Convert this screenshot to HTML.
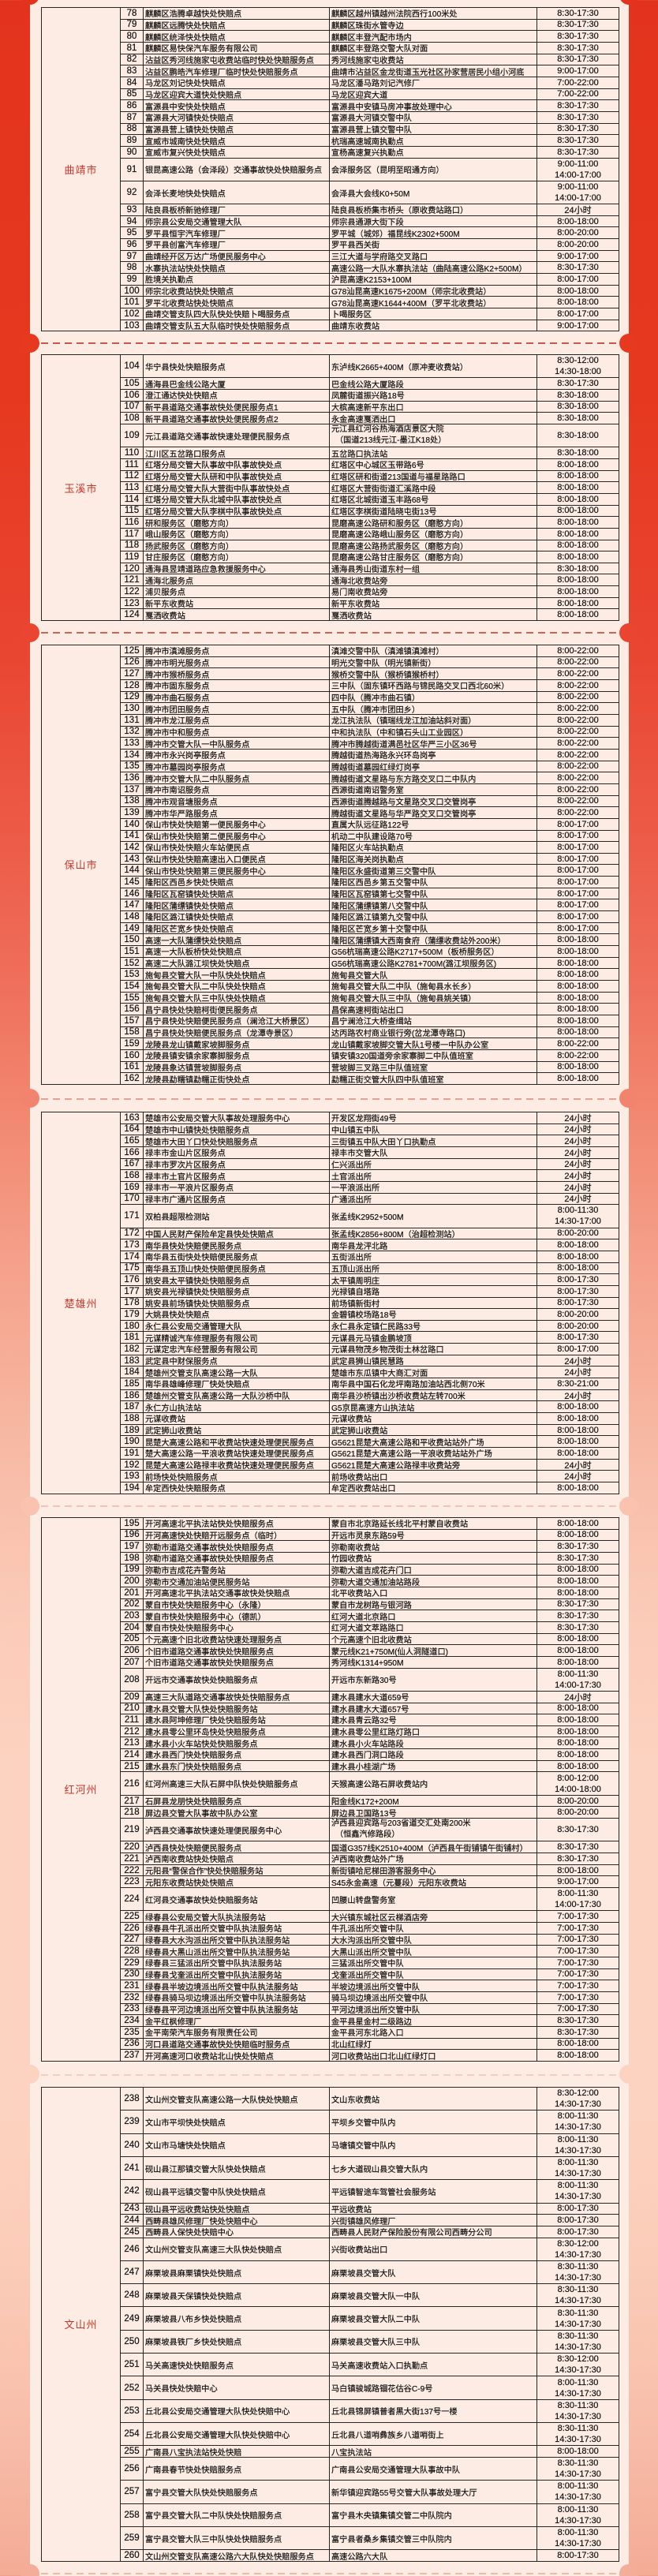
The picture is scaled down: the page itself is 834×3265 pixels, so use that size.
<!DOCTYPE html>
<html lang="zh">
<head>
<meta charset="utf-8">
<style>
*{margin:0;padding:0;box-sizing:border-box}
html,body{width:834px;height:3265px;overflow:hidden}
body{position:relative;font-family:"Liberation Sans","Noto Sans CJK SC",sans-serif;color:#121212;
background:linear-gradient(to bottom,#e3331e 0px,#e6381f 500px,#e94531 820px,#ec5a46 1050px,#ef705c 1250px,#f2866f 1400px,#f5a38d 1620px,#f8bea9 1880px,#fbcbb8 2050px,#fcd3c1 2250px,#fcd3c1 2650px,#fbcdb9 2850px,#f8c0ac 3050px,#f4ab96 3265px)}
.card{position:absolute;left:38px;top:-20px;width:759px;height:3320px;background:#fcece3;border-radius:12px}
.n{position:absolute;width:24px;height:24px;border-radius:50%}
.dl{position:absolute;left:52px;width:733px;height:2px}
.g{position:absolute;left:52px;width:733px;display:grid;grid-template-columns:100px 29px 236px 263px 104px;grid-auto-rows:14.67px;border-left:1px solid #262626;border-top:1px solid #262626;background:#fcece3}
.g h3{grid-column:1;display:flex;align-items:center;justify-content:center;font-weight:normal;font-size:13px;letter-spacing:1px;color:#c4392d;border-right:1px solid #262626;border-bottom:1px solid #262626}
.g p{display:contents}
.g i,.g b,.g em{display:flex;flex-direction:column;justify-content:center;border-right:1px solid #262626;border-bottom:1px solid #262626;font-style:normal;font-weight:normal;white-space:nowrap;overflow:hidden;-webkit-text-stroke:0.2px #121212}
.g i{align-items:center;font-size:11.5px}
.g b{align-items:flex-start;padding-left:2px;font-size:10.2px}
.g em{align-items:center;font-size:11px}
.g s{display:block;text-decoration:none;line-height:14px}
.g b s.in{padding-left:5px}
.g p.d>*{grid-row-end:span 2}
</style>
</head>
<body>
<div class="card"></div>

<div class="n" style="left:26px;top:-18px;background:#e3331e"></div><div class="n" style="left:785px;top:-18px;background:#e3331e"></div>
<div class="n" style="left:26px;top:423px;background:#e6391f"></div><div class="n" style="left:785px;top:423px;background:#e6391f"></div>
<div class="n" style="left:26px;top:790px;background:#e94531"></div><div class="n" style="left:785px;top:790px;background:#e94531"></div>
<div class="n" style="left:26px;top:1380px;background:#f2846e"></div><div class="n" style="left:785px;top:1380px;background:#f2846e"></div>
<div class="n" style="left:26px;top:1897px;background:#f9c3af"></div><div class="n" style="left:785px;top:1897px;background:#f9c3af"></div>
<div class="n" style="left:26px;top:2617px;background:#fcd3c1"></div><div class="n" style="left:785px;top:2617px;background:#fcd3c1"></div>
<div class="n" style="left:26px;top:3250px;background:#f4ad98"></div><div class="n" style="left:785px;top:3250px;background:#f4ad98"></div>

<div class="dl" style="top:434px;background:repeating-linear-gradient(90deg,#c85848 0 9px,transparent 9px 15px)"></div>
<div class="dl" style="top:801px;background:repeating-linear-gradient(90deg,#cb6556 0 9px,transparent 9px 15px)"></div>
<div class="dl" style="top:1392px;background:repeating-linear-gradient(90deg,#e4a090 0 9px,transparent 9px 15px)"></div>
<div class="dl" style="top:1908px;background:repeating-linear-gradient(90deg,#efc4b4 0 9px,transparent 9px 15px)"></div>
<div class="dl" style="top:2629px;background:repeating-linear-gradient(90deg,#f3cebf 0 9px,transparent 9px 15px)"></div>
<div class="dl" style="top:3261px;background:repeating-linear-gradient(90deg,#efbba9 0 9px,transparent 9px 15px)"></div>

<!-- 曲靖市 -->
<div class="g" style="top:9px">
<h3 style="grid-row:1/span 28">曲靖市</h3>
<p><i>78</i><b>麒麟区浩腾卓越快处快赔点</b><b>麒麟区越州镇越州法院西行100米处</b><em>8:30-17:30</em></p>
<p><i>79</i><b>麒麟区远腾快处快赔点</b><b>麒麟区珠街水管寺边</b><em>8:30-17:30</em></p>
<p><i>80</i><b>麒麟区统泽快处快赔点</b><b>麒麟区丰登汽配市场内</b><em>8:30-17:30</em></p>
<p><i>81</i><b>麒麟区易快保汽车服务有限公司</b><b>麒麟区丰登路交警大队对面</b><em>8:30-17:30</em></p>
<p><i>82</i><b>沾益区秀河线施家屯收费站临时快处快赔服务点</b><b>秀河线施家屯收费站</b><em>8:30-17:30</em></p>
<p><i>83</i><b>沾益区鹏皓汽车修理厂临时快处快赔服务点</b><b>曲靖市沾益区金龙街道玉光社区孙家营居民小组小河底</b><em>9:00-17:00</em></p>
<p><i>84</i><b>马龙区刘记快处快赔点</b><b>马龙区潘马路刘记汽修厂</b><em>7:00-22:00</em></p>
<p><i>85</i><b>马龙区迎宾大道快处快赔点</b><b>马龙区迎宾大道</b><em>7:00-22:00</em></p>
<p><i>86</i><b>富源县中安快处快赔点</b><b>富源县中安镇马房冲事故处理中心</b><em>8:30-17:30</em></p>
<p><i>87</i><b>富源县大河镇快处快赔点</b><b>富源县大河镇交警中队</b><em>8:30-17:30</em></p>
<p><i>88</i><b>富源县营上镇快处快赔点</b><b>富源县营上镇交警中队</b><em>8:30-17:30</em></p>
<p><i>89</i><b>宣威市城南快处快赔点</b><b>杭瑞高速城南执勤点</b><em>8:30-17:30</em></p>
<p><i>90</i><b>宣威市复兴快处快赔点</b><b>宣杨高速复兴执勤点</b><em>8:30-17:30</em></p>
<p class="d"><i>91</i><b>银昆高速公路（会泽段）交通事故快处快赔服务点</b><b>会泽服务区（昆明至昭通方向）</b><em><s>9:00-11:00</s><s>14:00-17:00</s></em></p>
<p class="d"><i>92</i><b>会泽长麦地快处快赔点</b><b>会泽县大会线K0+50M</b><em><s>9:00-11:00</s><s>14:00-17:00</s></em></p>
<p><i>93</i><b>陆良县板桥新驰修理厂</b><b>陆良县板桥集市桥头（原收费站路口）</b><em>24小时</em></p>
<p><i>94</i><b>师宗县公安局交通管理大队</b><b>师宗县通源大街下段</b><em>8:00-18:00</em></p>
<p><i>95</i><b>罗平县恒宇汽车修理厂</b><b>罗平城（城郊）福昆线K2302+500M</b><em>8:00-20:00</em></p>
<p><i>96</i><b>罗平县创富汽车修理厂</b><b>罗平县西关街</b><em>8:00-20:00</em></p>
<p><i>97</i><b>曲靖经开区万达广场便民服务中心</b><b>三江大道与学府路交叉路口</b><em>9:00-17:00</em></p>
<p><i>98</i><b>水寨执法站快处快赔点</b><b>高速公路一大队水寨执法站（曲陆高速公路K2+500M）</b><em>8:30-17:30</em></p>
<p><i>99</i><b>胜境关执勤点</b><b>沪昆高速K2153+100M</b><em>8:00-17:00</em></p>
<p><i>100</i><b>师宗北收费站快处快赔点</b><b>G78汕昆高速K1675+200M（师宗北收费站）</b><em>8:00-18:00</em></p>
<p><i>101</i><b>罗平北收费站快处快赔点</b><b>G78汕昆高速K1644+400M（罗平北收费站）</b><em>8:00-18:00</em></p>
<p><i>102</i><b>曲靖交管支队四大队快处快赔卜喝服务点</b><b>卜喝服务区</b><em>8:00-17:00</em></p>
<p><i>103</i><b>曲靖交管支队五大队临时快处快赔服务点</b><b>曲靖东收费站</b><em>9:00-17:00</em></p>
</div>

<!-- 玉溪市 -->
<div class="g" style="top:449px">
<h3 style="grid-row:1/span 23">玉溪市</h3>
<p class="d"><i>104</i><b>华宁县快处快赔服务点</b><b>东泸线K2665+400M（原冲麦收费站）</b><em><s>8:30-12:00</s><s>14:30-18:00</s></em></p>
<p><i>105</i><b>通海县巴金线公路大厦</b><b>巴金线公路大厦路段</b><em>8:30-17:30</em></p>
<p><i>106</i><b>澄江通达快处快赔点</b><b>凤麓街道振兴路18号</b><em>8:30-18:00</em></p>
<p><i>107</i><b>新平县道路交通事故快处便民服务点1</b><b>大槟高速新平东出口</b><em>8:30-18:00</em></p>
<p><i>108</i><b>新平县道路交通事故快处便民服务点2</b><b>永金高速戛洒出口</b><em>8:30-18:00</em></p>
<p class="d"><i>109</i><b>元江县道路交通事故快速处理便民服务点</b><b><s>元江县红河谷热海酒店景区大院</s><s class="in">（国道213线元江-墨江K18处）</s></b><em>8:30-18:00</em></p>
<p><i>110</i><b>江川区五岔路口服务点</b><b>五岔路口执法站</b><em>8:30-18:00</em></p>
<p><i>111</i><b>红塔分局交管大队事故中队事故快处点</b><b>红塔区中心城区玉带路6号</b><em>8:00-18:00</em></p>
<p><i>112</i><b>红塔分局交管大队研和中队事故快处点</b><b>红塔区研和街道213国道与福星路路口</b><em>8:00-18:00</em></p>
<p><i>113</i><b>红塔分局交管大队大营街中队事故快处点</b><b>红塔区大营街街道汇溪路中段</b><em>8:00-18:00</em></p>
<p><i>114</i><b>红塔分局交管大队北城中队事故快处点</b><b>红塔区北城街道玉丰路68号</b><em>8:00-18:00</em></p>
<p><i>115</i><b>红塔分局交管大队李棋中队事故快处点</b><b>红塔区李棋街道陆晓屯街13号</b><em>8:00-18:00</em></p>
<p><i>116</i><b>研和服务区（磨憨方向）</b><b>昆磨高速公路研和服务区（磨憨方向）</b><em>8:00-18:00</em></p>
<p><i>117</i><b>峨山服务区（磨憨方向）</b><b>昆磨高速公路峨山服务区（磨憨方向）</b><em>8:00-18:00</em></p>
<p><i>118</i><b>扬武服务区（磨憨方向）</b><b>昆磨高速公路扬武服务区（磨憨方向）</b><em>8:00-18:00</em></p>
<p><i>119</i><b>甘庄服务区（磨憨方向）</b><b>昆磨高速公路甘庄服务区（磨憨方向）</b><em>8:00-18:00</em></p>
<p><i>120</i><b>通海县昱靖道路应急救援服务中心</b><b>通海县秀山街道东村一组</b><em>8:30-18:00</em></p>
<p><i>121</i><b>通海北服务点</b><b>通海北收费站旁</b><em>8:00-18:00</em></p>
<p><i>122</i><b>浦贝服务点</b><b>易门南收费站旁</b><em>8:00-18:00</em></p>
<p><i>123</i><b>新平东收费站</b><b>新平东收费站</b><em>8:00-18:00</em></p>
<p><i>124</i><b>戛洒收费站</b><b>戛洒收费站</b><em>8:00-18:00</em></p>
</div>

<!-- 保山市 -->
<div class="g" style="top:817px">
<h3 style="grid-row:1/span 38">保山市</h3>
<p><i>125</i><b>腾冲市滇滩服务点</b><b>滇滩交警中队（滇滩镇滇滩村）</b><em>8:00-22:00</em></p>
<p><i>126</i><b>腾冲市明光服务点</b><b>明光交警中队（明光镇新街）</b><em>8:00-22:00</em></p>
<p><i>127</i><b>腾冲市猴桥服务点</b><b>猴桥交警中队（猴桥镇猴桥村）</b><em>8:00-22:00</em></p>
<p><i>128</i><b>腾冲市固东服务点</b><b>三中队（固东镇环西路与锦民路交叉口西北60米）</b><em>8:00-22:00</em></p>
<p><i>129</i><b>腾冲市曲石服务点</b><b>四中队（腾冲市曲石镇）</b><em>8:00-22:00</em></p>
<p><i>130</i><b>腾冲市团田服务点</b><b>五中队（腾冲市团田乡）</b><em>8:00-22:00</em></p>
<p><i>131</i><b>腾冲市龙江服务点</b><b>龙江执法队（镇瑞线龙江加油站斜对面）</b><em>8:00-22:00</em></p>
<p><i>132</i><b>腾冲市中和服务点</b><b>中和执法队（中和镇石头山工业园区）</b><em>8:00-22:00</em></p>
<p><i>133</i><b>腾冲市交管大队一中队服务点</b><b>腾冲市腾越街道满邑社区华严三小区36号</b><em>8:00-22:00</em></p>
<p><i>134</i><b>腾冲市永兴岗亭服务点</b><b>腾越街道热海路永兴环岛岗亭</b><em>8:00-22:00</em></p>
<p><i>135</i><b>腾冲市墓园岗亭服务点</b><b>腾越街道墓园红绿灯岗亭</b><em>8:00-22:00</em></p>
<p><i>136</i><b>腾冲市交管大队二中队服务点</b><b>腾越街道文星路与东方路交叉口二中队内</b><em>8:00-22:00</em></p>
<p><i>137</i><b>腾冲市南诏服务点</b><b>西源街道南诏警务室</b><em>8:00-22:00</em></p>
<p><i>138</i><b>腾冲市观音塘服务点</b><b>西源街道腾越路与文星路交叉口交管岗亭</b><em>8:00-22:00</em></p>
<p><i>139</i><b>腾冲市华严路服务点</b><b>腾越街道文星路与华严路交叉口交管岗亭</b><em>8:00-22:00</em></p>
<p><i>140</i><b>保山市快处快赔第一便民服务中心</b><b>直属大队远征路122号</b><em>8:00-17:00</em></p>
<p><i>141</i><b>保山市快处快赔第二便民服务中心</b><b>机动二中队建设路70号</b><em>8:00-17:00</em></p>
<p><i>142</i><b>保山市快处快赔火车站便民点</b><b>隆阳区火车站执勤点</b><em>8:00-17:00</em></p>
<p><i>143</i><b>保山市快处快赔高速出入口便民点</b><b>隆阳区海关岗执勤点</b><em>8:00-17:00</em></p>
<p><i>144</i><b>保山市快处快赔第三便民服务中心</b><b>隆阳区永盛街道第三交警中队</b><em>8:00-17:00</em></p>
<p><i>145</i><b>隆阳区西邑乡快处快赔点</b><b>隆阳区西邑乡第五交警中队</b><em>8:00-17:00</em></p>
<p><i>146</i><b>隆阳区瓦窑镇快处快赔点</b><b>隆阳区瓦窑镇第七交警中队</b><em>8:00-17:00</em></p>
<p><i>147</i><b>隆阳区蒲缥镇快处快赔点</b><b>隆阳区蒲缥镇第八交警中队</b><em>8:00-17:00</em></p>
<p><i>148</i><b>隆阳区潞江镇快处快赔点</b><b>隆阳区潞江镇第九交警中队</b><em>8:00-17:00</em></p>
<p><i>149</i><b>隆阳区芒宽乡快处快赔点</b><b>隆阳区芒宽乡第十交警中队</b><em>8:00-17:00</em></p>
<p><i>150</i><b>高速一大队蒲缥快处快赔点</b><b>隆阳区蒲缥镇大西南食府（蒲缥收费站外200米）</b><em>8:00-18:00</em></p>
<p><i>151</i><b>高速一大队板桥快处快赔点</b><b>G56杭瑞高速公路K2717+500M（板桥服务区）</b><em>8:00-18:00</em></p>
<p><i>152</i><b>高速二大队潞江坝快处快赔点</b><b>G56杭瑞高速公路K2781+700M(潞江坝服务区)</b><em>8:00-18:00</em></p>
<p><i>153</i><b>施甸县交管大队一中队快处快赔点</b><b>施甸县交管大队</b><em>8:00-18:00</em></p>
<p><i>154</i><b>施甸县交管大队二中队快处快赔点</b><b>施甸县交管大队二中队（施甸县水长乡）</b><em>8:00-18:00</em></p>
<p><i>155</i><b>施甸县交管大队三中队快处快赔点</b><b>施甸县交管大队三中队（施甸县姚关镇）</b><em>8:00-18:00</em></p>
<p><i>156</i><b>昌宁县快处快赔柯街便民服务点</b><b>昌保高速柯街站出口</b><em>8:00-18:00</em></p>
<p><i>157</i><b>昌宁县快处快赔便民服务点（澜沧江大桥景区）</b><b>昌宁澜沧江大桥查缉站</b><em>8:00-18:00</em></p>
<p><i>158</i><b>昌宁县快处快赔便民服务点（龙潭寺景区）</b><b>达丙路农村商业银行旁(岔龙潭寺路口)</b><em>8:00-18:00</em></p>
<p><i>159</i><b>龙陵县龙山镇戴家坡脚服务点</b><b>龙山镇戴家坡脚交管大队1号楼一中队办公室</b><em>8:00-22:00</em></p>
<p><i>160</i><b>龙陵县镇安镇余家寨脚服务点</b><b>镇安镇320国道旁余家寨脚二中队值班室</b><em>8:00-22:00</em></p>
<p><i>161</i><b>龙陵县象达镇营坡脚服务点</b><b>营坡脚三叉路三中队值班室</b><em>8:00-18:00</em></p>
<p><i>162</i><b>龙陵县勐糯镇勐糯正街快处点</b><b>勐糯正街交管大队四中队值班室</b><em>8:00-18:00</em></p>
</div>

<!-- 楚雄州 -->
<div class="g" style="top:1409px">
<h3 style="grid-row:1/span 33">楚雄州</h3>
<p><i>163</i><b>楚雄市公安局交管大队事故处理服务中心</b><b>开发区龙翔街49号</b><em>24小时</em></p>
<p><i>164</i><b>楚雄市中山镇快处快赔服务点</b><b>中山镇五中队</b><em>24小时</em></p>
<p><i>165</i><b>楚雄市大田丫口快处快赔服务点</b><b>三街镇五中队大田丫口执勤点</b><em>24小时</em></p>
<p><i>166</i><b>禄丰市金山片区服务点</b><b>禄丰市交管大队</b><em>24小时</em></p>
<p><i>167</i><b>禄丰市罗次片区服务点</b><b>仁兴派出所</b><em>24小时</em></p>
<p><i>168</i><b>禄丰市土官片区服务点</b><b>土官派出所</b><em>24小时</em></p>
<p><i>169</i><b>禄丰市一平浪片区服务点</b><b>一平浪派出所</b><em>24小时</em></p>
<p><i>170</i><b>禄丰市广通片区服务点</b><b>广通派出所</b><em>24小时</em></p>
<p class="d"><i>171</i><b>双柏县超限检测站</b><b>张孟线K2952+500M</b><em><s>8:00-11:30</s><s>14:30-17:00</s></em></p>
<p><i>172</i><b>中国人民财产保险牟定县快处快赔点</b><b>张孟线K2856+800M（治超检测站）</b><em>8:00-20:00</em></p>
<p><i>173</i><b>南华县快处快赔便民服务点</b><b>南华县龙泙北路</b><em>8:00-18:00</em></p>
<p><i>174</i><b>南华县五街快处快赔便民服务点</b><b>五街派出所</b><em>8:00-18:00</em></p>
<p><i>175</i><b>南华县五顶山快处快赔便民服务点</b><b>五顶山派出所</b><em>8:00-18:00</em></p>
<p><i>176</i><b>姚安县太平镇快处快赔服务点</b><b>太平镇周明庄</b><em>8:00-17:30</em></p>
<p><i>177</i><b>姚安县光禄镇快处快赔服务点</b><b>光禄镇自塔路</b><em>8:00-17:30</em></p>
<p><i>178</i><b>姚安县前场镇快处快赔服务点</b><b>前场镇新街村</b><em>8:00-17:30</em></p>
<p><i>179</i><b>大姚县快处快赔点</b><b>金碧镇校场路18号</b><em>8:00-20:00</em></p>
<p><i>180</i><b>永仁县公安局交通管理大队</b><b>永仁县永定镇仁民路33号</b><em>8:00-20:00</em></p>
<p><i>181</i><b>元谋精诚汽车修理服务有限公司</b><b>元谋县元马镇金鹏坡顶</b><em>8:00-17:30</em></p>
<p><i>182</i><b>元谋定忠汽车经营服务有限公司</b><b>元谋县物茂乡物茂街土林岔路口</b><em>8:00-17:00</em></p>
<p><i>183</i><b>武定县中财保服务点</b><b>武定县狮山镇民慧路</b><em>24小时</em></p>
<p><i>184</i><b>楚雄州交管支队高速公路一大队</b><b>楚雄市东瓜镇中大商汇对面</b><em>24小时</em></p>
<p><i>185</i><b>南华县雄峰修理厂快处快赔点</b><b>南华县中国石化龙坪南路加油站西北侧70米</b><em>8:30-21:00</em></p>
<p><i>186</i><b>楚雄州交管支队高速公路一大队沙桥中队</b><b>南华县沙桥镇出沙桥收费站左转700米</b><em>24小时</em></p>
<p><i>187</i><b>永仁方山执法站</b><b>G5京昆高速方山执法站</b><em>8:00-18:00</em></p>
<p><i>188</i><b>元谋收费站</b><b>元谋收费站</b><em>8:00-18:00</em></p>
<p><i>189</i><b>武定狮山收费站</b><b>武定狮山收费站</b><em>8:00-18:00</em></p>
<p><i>190</i><b>昆楚大高速公路和平收费站快速处理便民服务点</b><b>G5621昆楚大高速公路和平收费站站外广场</b><em>8:00-18:00</em></p>
<p><i>191</i><b>楚大高速公路一平浪收费站快速处理便民服务点</b><b>G5621昆楚大高速公路一平浪收费站站外广场</b><em>8:00-18:00</em></p>
<p><i>192</i><b>昆楚大高速公路禄丰收费站快速处理便民服务点</b><b>G5621昆楚大高速公路禄丰收费站旁</b><em>24小时</em></p>
<p><i>193</i><b>前场快处快赔服务点</b><b>前场收费站出口</b><em>24小时</em></p>
<p><i>194</i><b>牟定西快处快赔服务点</b><b>牟定西收费站出口</b><em>8:00-18:00</em></p>
</div>

<!-- 红河州 -->
<div class="g" style="top:1923px">
<h3 style="grid-row:1/span 47">红河州</h3>
<p><i>195</i><b>开河高速北平执法站快处快赔服务点</b><b>蒙自市北京路延长线北平村蒙自收费站</b><em>8:00-18:00</em></p>
<p><i>196</i><b>开河高速快处快赔开远服务点（临时）</b><b>开远市灵泉东路59号</b><em>8:00-18:00</em></p>
<p><i>197</i><b>弥勒市道路交通事故快处快赔服务点</b><b>弥勒南收费站</b><em>8:30-17:30</em></p>
<p><i>198</i><b>弥勒市道路交通事故快处快赔服务点</b><b>竹园收费站</b><em>8:30-17:30</em></p>
<p><i>199</i><b>弥勒市吉成花卉警务站</b><b>弥勒大道吉成花卉门口</b><em>8:00-18:00</em></p>
<p><i>200</i><b>弥勒市交通加油站便民服务站</b><b>弥勒大道交通加油站路段</b><em>8:00-18:00</em></p>
<p><i>201</i><b>开河高速北平执法站交通事故快处快赔点</b><b>北平收费站入口</b><em>8:00-18:00</em></p>
<p><i>202</i><b>蒙自市快处快赔服务中心（永隆）</b><b>蒙自市龙树路与银河路</b><em>8:30-17:30</em></p>
<p><i>203</i><b>蒙自市快处快赔服务中心（德凯）</b><b>红河大道北京路口</b><em>8:30-17:30</em></p>
<p><i>204</i><b>蒙自市快处快赔服务中心</b><b>红河大道文萃路路口</b><em>8:30-17:30</em></p>
<p><i>205</i><b>个元高速个旧北收费站快速处理服务点</b><b>个元高速个旧北收费站</b><em>8:00-18:00</em></p>
<p><i>206</i><b>个旧市道路交通事故快处快赔服务点</b><b>蒙元线K21+750M(仙人洞隧道口)</b><em>8:00-18:00</em></p>
<p><i>207</i><b>个旧市道路交通事故快处快赔服务点</b><b>秀河线K1314+950M</b><em>8:00-18:00</em></p>
<p class="d"><i>208</i><b>开远市交通事故快处快赔服务点</b><b>开远市东新路30号</b><em><s>8:00-11:30</s><s>14:00-17:30</s></em></p>
<p><i>209</i><b>高速三大队道路交通事故快处快赔服务点</b><b>建水县建水大道659号</b><em>24小时</em></p>
<p><i>210</i><b>建水县交管大队快处快赔服务站</b><b>建水县建水大道657号</b><em>8:00-18:00</em></p>
<p><i>211</i><b>建水县阿坤修理厂快处快赔服务站</b><b>建水县青云路32号</b><em>8:00-18:00</em></p>
<p><i>212</i><b>建水县零公里环岛快处快赔服务点</b><b>建水县零公里红路灯路口</b><em>8:00-18:00</em></p>
<p><i>213</i><b>建水县小火车站快处快赔服务点</b><b>建水县小火车站路段</b><em>8:00-18:00</em></p>
<p><i>214</i><b>建水县西门快处快赔服务点</b><b>建水县西门洞口路段</b><em>8:00-18:00</em></p>
<p><i>215</i><b>建水县东门快处快赔服务点</b><b>建水县小桂湖广场</b><em>8:00-18:00</em></p>
<p class="d"><i>216</i><b>红河州高速三大队石屏中队快处快赔服务点</b><b>天猴高速公路石屏收费站内</b><em><s>8:00-12:00</s><s>14:00-18:00</s></em></p>
<p><i>217</i><b>石屏县龙朋快处快赔服务点</b><b>阳金线K172+200M</b><em>8:00-20:00</em></p>
<p><i>218</i><b>屏边县交管大队事故中队办公室</b><b>屏边县卫国路13号</b><em>8:00-20:00</em></p>
<p class="d"><i>219</i><b>泸西县交通事故快速处理便民服务中心</b><b><s>泸西县迎宾路与203省道交汇处南200米</s><s class="in">（恒鑫汽修路段）</s></b><em>8:30-17:30</em></p>
<p><i>220</i><b>泸西县快处快赔便民服务点</b><b>国道G357线K2510+400M（泸西县午街铺镇午街铺村）</b><em>8:30-17:30</em></p>
<p><i>221</i><b>泸西南收费站快处快赔点</b><b>泸西南收费站外广场</b><em>8:30-17:30</em></p>
<p><i>222</i><b>元阳县“警保合作”快处快赔服务站</b><b>新街镇哈尼梯田游客服务中心</b><em>8:00-18:00</em></p>
<p><i>223</i><b>元阳东收费站快处快赔点</b><b>S45永金高速（元蔓段）元阳东收费站</b><em>9:00-17:00</em></p>
<p class="d"><i>224</i><b>红河县交通事故快处快赔服务站</b><b>凹腰山转盘警务室</b><em><s>8:00-11:30</s><s>14:00-17:30</s></em></p>
<p><i>225</i><b>绿春县公安局交管大队执法服务站</b><b>大兴镇东城社区云梯酒店旁</b><em>7:00-17:30</em></p>
<p><i>226</i><b>绿春县牛孔派出所交管中队执法服务站</b><b>牛孔派出所交管中队</b><em>7:00-17:30</em></p>
<p><i>227</i><b>绿春县大水沟派出所交管中队执法服务站</b><b>大水沟派出所交管中队</b><em>7:00-17:30</em></p>
<p><i>228</i><b>绿春县大黑山派出所交管中队执法服务站</b><b>大黑山派出所交管中队</b><em>7:00-17:30</em></p>
<p><i>229</i><b>绿春县三猛派出所交管中队执法服务站</b><b>三猛派出所交管中队</b><em>7:00-17:30</em></p>
<p><i>230</i><b>绿春县戈奎派出所交管中队执法服务站</b><b>戈奎派出所交管中队</b><em>7:00-17:30</em></p>
<p><i>231</i><b>绿春县半坡边境派出所交管中队执法服务站</b><b>半坡边境派出所交管中队</b><em>7:00-17:30</em></p>
<p><i>232</i><b>绿春县骑马坝边境派出所交管中队执法服务站</b><b>骑马坝边境派出所交管中队</b><em>7:00-17:30</em></p>
<p><i>233</i><b>绿春县平河边境派出所交管中队执法服务站</b><b>平河边境派出所交管中队</b><em>7:00-17:30</em></p>
<p><i>234</i><b>金平红枫修理厂</b><b>金平县星金村二级路边</b><em>8:30-17:30</em></p>
<p><i>235</i><b>金平南荣汽车服务有限责任公司</b><b>金平县河东北路入口</b><em>8:30-17:30</em></p>
<p><i>236</i><b>河口县道路交通事故快处快赔临时服务点</b><b>北山红绿灯</b><em>8:00-18:00</em></p>
<p><i>237</i><b>开河高速河口收费站北山快处快赔点</b><b>河口收费站出口北山红绿灯口</b><em>8:00-18:00</em></p>
</div>

<!-- 文山州 -->
<div class="g" style="top:2645px">
<h3 style="grid-row:1/span 41">文山州</h3>
<p class="d"><i>238</i><b>文山州交管支队高速公路一大队快处快赔点</b><b>文山东收费站</b><em><s>8:30-12:00</s><s>14:30-17:30</s></em></p>
<p class="d"><i>239</i><b>文山市平坝快处快赔点</b><b>平坝乡交管中队内</b><em><s>8:00-11:30</s><s>14:30-17:30</s></em></p>
<p class="d"><i>240</i><b>文山市马塘快处快赔点</b><b>马塘镇交管中队内</b><em><s>8:00-11:30</s><s>14:30-17:30</s></em></p>
<p class="d"><i>241</i><b>砚山县江那镇交管大队快处快赔点</b><b>七乡大道砚山县交管大队内</b><em><s>8:00-11:30</s><s>14:30-17:30</s></em></p>
<p class="d"><i>242</i><b>砚山县平远镇交警中队快处快赔点</b><b>平远镇智途车驾管社会服务站</b><em><s>8:00-11:30</s><s>14:30-17:30</s></em></p>
<p><i>243</i><b>砚山县平远收费站快处快赔点</b><b>平远收费站</b><em>8:00-17:30</em></p>
<p><i>244</i><b>西畴县雄风修理厂快处快赔中心</b><b>兴街镇雄风修理厂</b><em>8:00-17:30</em></p>
<p><i>245</i><b>西畴县人保快处快赔中心</b><b>西畴县人民财产保险股份有限公司西畴分公司</b><em>8:00-17:30</em></p>
<p class="d"><i>246</i><b>文山州交管支队高速三大队快处快赔点</b><b>兴街收费站出口</b><em><s>8:30-12:00</s><s>14:30-17:30</s></em></p>
<p class="d"><i>247</i><b>麻栗坡县麻栗镇快处快赔点</b><b>麻栗坡县交管大队</b><em><s>8:30-11:30</s><s>14:30-17:30</s></em></p>
<p class="d"><i>248</i><b>麻栗坡县天保镇快处快赔点</b><b>麻栗坡县交管大队一中队</b><em><s>8:30-11:30</s><s>14:30-17:30</s></em></p>
<p class="d"><i>249</i><b>麻栗坡县八布乡快处快赔点</b><b>麻栗坡县交管大队二中队</b><em><s>8:30-11:30</s><s>14:30-17:30</s></em></p>
<p class="d"><i>250</i><b>麻栗坡县铁厂乡快处快赔点</b><b>麻栗坡县交管大队三中队</b><em><s>8:30-11:30</s><s>14:30-17:30</s></em></p>
<p class="d"><i>251</i><b>马关高速快处快赔服务点</b><b>马关高速收费站入口执勤点</b><em><s>8:30-12:00</s><s>14:30-17:30</s></em></p>
<p class="d"><i>252</i><b>马关县快处快赔中心</b><b>马白镇骏城路锢花估谷C-9号</b><em><s>8:00-11:30</s><s>14:30-17:30</s></em></p>
<p class="d"><i>253</i><b>丘北县公安局交通管理大队快处快赔中心</b><b>丘北县锦屏镇普者黑大街137号一楼</b><em><s>8:30-11:30</s><s>14:30-17:30</s></em></p>
<p class="d"><i>254</i><b>丘北县公安局交通管理大队快处快赔中心</b><b>丘北县八道哨彝族乡八道哨街上</b><em><s>8:30-11:30</s><s>14:30-17:30</s></em></p>
<p><i>255</i><b>广南县八宝执法站快处快赔</b><b>八宝执法站</b><em>8:00-18:00</em></p>
<p class="d"><i>256</i><b>广南县春节快处快赔服务点</b><b>广南县公安局交通管理大队事故中队</b><em><s>8:30-11:30</s><s>14:30-17:30</s></em></p>
<p class="d"><i>257</i><b>富宁县交管大队快处快赔服务点</b><b>新华镇迎宾路55号交管大队事故处理大厅</b><em><s>8:00-11:30</s><s>14:30-17:30</s></em></p>
<p class="d"><i>258</i><b>富宁县交管大队二中队快处快赔服务点</b><b>富宁县木央镇集镇交管二中队院内</b><em><s>8:00-11:30</s><s>14:30-17:30</s></em></p>
<p class="d"><i>259</i><b>富宁县交管大队三中队快处快赔服务点</b><b>富宁县者桑乡集镇交管三中队院内</b><em><s>8:00-11:30</s><s>14:30-17:30</s></em></p>
<p><i>260</i><b>文山州交管支队高速公路六大队快处快赔服务点</b><b>高速公路六大队</b><em>8:00-17:30</em></p>
</div>
</body>
</html>
